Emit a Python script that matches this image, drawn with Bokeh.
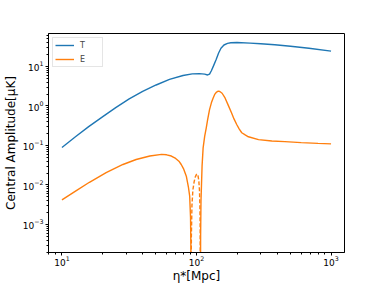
from bokeh.plotting import figure
from bokeh.models import Range1d, LogTicker, Legend, LegendItem
from bokeh.embed import file_html
from bokeh.resources import INLINE

# ---- data ----
eta_T = [10, 12.6, 15.8, 20, 25.1, 31.6, 39.8, 50.1, 63, 79.4, 93, 105, 115,
         121, 125, 129, 134, 140, 146, 152, 160, 170, 180, 200, 250, 300, 382,
         500, 685, 1000]
amp_T = [0.089, 0.166, 0.30, 0.53, 0.91, 1.51, 2.34, 3.4, 4.7, 5.9, 6.5, 6.6, 6.4,
         6.1, 6.4, 7.8, 10.5, 15, 22, 29, 35, 38.5, 40, 40.5, 39, 37.5, 35.5,
         32.5, 29, 24.5]

# E-mode, positive branch below the first zero crossing
eta_E_low = [10, 12.7, 16, 21.3, 28.4, 35.6, 45, 55, 60, 65, 70, 74, 77, 80,
             84, 87, 89, 90.3, 90.8, 91.0]
amp_E_low = [0.0042, 0.0071, 0.0117, 0.0205, 0.033, 0.0442, 0.054, 0.0595, 0.058,
             0.054, 0.047, 0.040, 0.033, 0.026, 0.0167, 0.009, 0.0052, 0.0015,
             0.0003, 0.00001]

# E-mode, negative branch (absolute value, dashed)
eta_E_neg = [91.2, 91.6, 92.5, 94, 96, 98, 100, 101, 102.5, 104, 105.2, 106, 106.5, 106.8]
amp_E_neg = [0.00001, 0.0005, 0.003, 0.0075, 0.012, 0.016, 0.0185, 0.019, 0.0175,
             0.013, 0.0075, 0.0029, 0.0008, 0.00001]

# E-mode, positive branch above the second zero crossing
eta_E_high = [107, 107.3, 108, 110, 112, 115, 118, 121, 125, 129, 133, 137, 141,
              145, 149, 155, 163, 172, 182, 190, 199, 208, 217, 230, 243, 289,
              363, 454, 600, 800, 1000]
amp_E_high = [0.00001, 0.0005, 0.004, 0.03, 0.087, 0.17, 0.27, 0.45, 0.81, 1.2,
              1.6, 2.0, 2.25, 2.37, 2.32, 2.1, 1.6, 1.05, 0.67, 0.47, 0.34, 0.26,
              0.21, 0.185, 0.166, 0.141, 0.13, 0.125, 0.118, 0.113, 0.11]

x_label = "η*[Mpc]"
y_label = "Central Amplitude[μK]"
series_names = ["T", "E"]

C_T = "#1f77b4"
C_E = "#ff7f0e"
FONT = "DejaVu Sans"

p = figure(frame_width=296, frame_height=219, x_axis_type="log", y_axis_type="log",
           x_range=Range1d(10 ** 0.9, 10 ** 3.1),
           y_range=Range1d(1.95e-4, 68.4),
           output_backend="svg", toolbar_location=None,
           min_border_left=39, min_border_right=30, min_border_top=33,
           min_border_bottom=16)

p.background_fill_color = "white"
p.border_fill_color = "white"
p.outline_line_color = "black"
p.outline_line_width = 1
p.grid.visible = False

for ax in (p.xaxis[0], p.yaxis[0]):
    ax.ticker = LogTicker(num_minor_ticks=10)
    ax.axis_line_color = "black"
    ax.major_tick_line_color = "black"
    ax.minor_tick_line_color = "black"
    ax.major_tick_in = 0
    ax.major_tick_out = 3
    ax.minor_tick_in = 0
    ax.minor_tick_out = 2
    ax.major_label_text_font = FONT
    ax.major_label_text_font_size = "9px"
    ax.major_label_text_color = "black"
    ax.axis_label_text_font = FONT
    ax.axis_label_text_font_size = "12px"
    ax.axis_label_text_font_style = "normal"
    ax.axis_label_text_color = "black"

p.yaxis.major_label_standoff = 2
p.yaxis.axis_label_standoff = 2
p.xaxis.major_label_standoff = 0
p.xaxis.axis_label_standoff = 0

p.xaxis.axis_label = x_label
p.yaxis.axis_label = y_label

r_T = p.line(eta_T, amp_T, line_color=C_T, line_width=1.4)
r_E = p.line(eta_E_low, amp_E_low, line_color=C_E, line_width=1.4)
p.line(eta_E_neg, amp_E_neg, line_color=C_E, line_width=1.4, line_dash="4 2")
p.line(eta_E_high, amp_E_high, line_color=C_E, line_width=1.4)

legend = Legend(items=[LegendItem(label=series_names[0], renderers=[r_T]),
                       LegendItem(label=series_names[1], renderers=[r_E])],
                location="top_left")
legend.margin = 4
legend.padding = 2
legend.spacing = 4
legend.glyph_width = 19
legend.glyph_height = 10
legend.label_height = 10
legend.label_standoff = 6
legend.label_text_font = FONT
legend.label_text_font_size = "8px"
legend.border_line_color = "#cccccc"
legend.border_line_width = 1
legend.background_fill_alpha = 0.8
p.add_layout(legend)

open("out.html", "w").write(file_html(p, INLINE))
